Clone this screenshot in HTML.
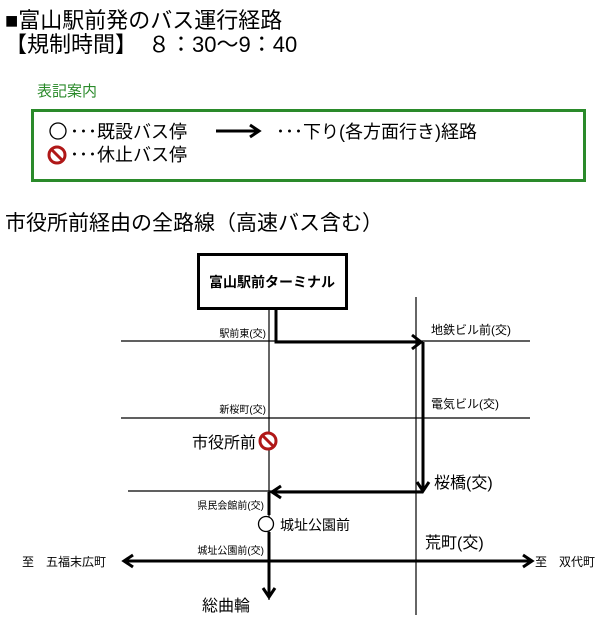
<!DOCTYPE html>
<html><head><meta charset="utf-8"><style>
html,body{margin:0;padding:0;background:#fff;width:614px;height:625px;overflow:hidden}
svg{display:block}
text{font-family:"Liberation Sans","Noto Sans CJK JP",sans-serif;fill:#000}
</style></head><body>
<svg width="614" height="625" viewBox="0 0 614 625">
<defs>
<g id="ns"><circle r="8" fill="#fff" stroke="#b01818" stroke-width="3"/><line x1="-5.5" y1="-5.5" x2="5.5" y2="5.5" stroke="#b01818" stroke-width="3"/></g>
</defs>
<text x="5" y="28" font-size="22">■富山駅前発のバス運行経路</text>
<text x="5" y="52" font-size="22">【規制時間】　８：30〜9：40</text>
<text x="37" y="96" font-size="15" style="fill:#2a8a2a">表記案内</text>
<rect x="32.5" y="110.5" width="552" height="70" fill="none" stroke="#2a8a2a" stroke-width="3"/>
<circle cx="58" cy="131" r="8" fill="#fff" stroke="#000" stroke-width="1.3"/>
<text x="70" y="138" font-size="18">･･･既設バス停</text>
<use href="#ns" x="57" y="155"/>
<text x="70" y="161" font-size="18">･･･休止バス停</text>
<line x1="216" y1="131" x2="258" y2="131" stroke="#000" stroke-width="3"/>
<path d="M250 125 L259 131 L250 137" fill="none" stroke="#000" stroke-width="3"/>
<text x="276" y="138" font-size="18">･･･下り(各方面行き)経路</text>
<text x="5" y="230" font-size="21">市役所前経由の全路線（高速バス含む）</text>

<g stroke="#000" stroke-width="1.2" fill="none">
<line x1="121" y1="341" x2="530" y2="341"/>
<line x1="121" y1="418" x2="530" y2="418"/>
<line x1="128" y1="491" x2="423" y2="491"/>
<line x1="269" y1="308" x2="269" y2="600"/>
<line x1="416" y1="297" x2="416" y2="615"/>
</g>
<rect x="198.5" y="254.5" width="148" height="54" fill="#fff" stroke="#000" stroke-width="3"/>
<text x="272" y="287" font-size="14" font-weight="bold" text-anchor="middle">富山駅前ターミナル</text>

<g stroke="#000" stroke-width="3" fill="none">
<polyline points="276,308 276,342 420,342"/>
<path d="M412 335 L421 342 L412 349"/>
<polyline points="423,342 423,490"/>
<path d="M417 482 L423 491 L429 482"/>
<line x1="423" y1="492" x2="272" y2="492"/>
<path d="M281 486 L272 492 L281 498"/>
<line x1="269" y1="492" x2="269" y2="515"/>
<line x1="269" y1="532" x2="269" y2="596"/>
<path d="M263 588 L269 597 L275 588"/>
<line x1="125" y1="561" x2="531" y2="561"/>
<path d="M133 555 L124 561 L133 567"/>
<path d="M523 555 L532 561 L523 567"/>
</g>
<circle cx="266" cy="524" r="7.5" fill="#fff" stroke="#000" stroke-width="1.3"/>
<use href="#ns" x="268" y="441"/>

<g font-size="10">
<text x="266" y="337" text-anchor="end">駅前東(交)</text>
<text x="266" y="413" text-anchor="end">新桜町(交)</text>
<text x="264" y="509" text-anchor="end">県民会館前(交)</text>
<text x="264" y="554" text-anchor="end">城址公園前(交)</text>
<text x="431" y="334" font-size="12">地鉄ビル前(交)</text>
<text x="431" y="408" font-size="12">電気ビル(交)</text>
</g>
<text x="256" y="448" font-size="16" text-anchor="end">市役所前</text>
<text x="434" y="488" font-size="16">桜橋(交)</text>
<text x="280" y="530" font-size="14">城址公園前</text>
<text x="425" y="548" font-size="16">荒町(交)</text>
<text x="22" y="566" font-size="12">至　五福末広町</text>
<text x="535" y="566" font-size="12">至　双代町</text>
<text x="202" y="611" font-size="16">総曲輪</text>
</svg>
</body></html>
